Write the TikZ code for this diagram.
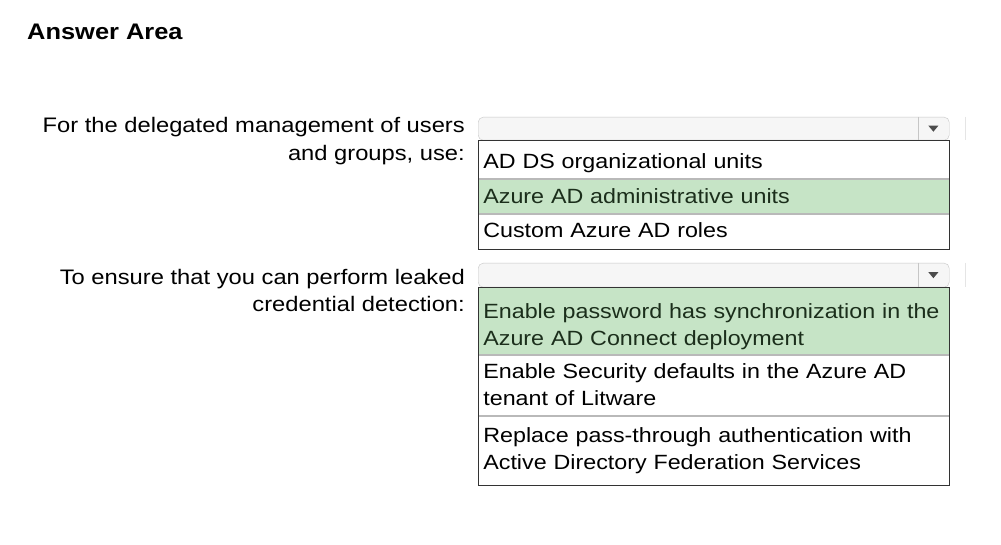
\documentclass[tikz,border=0pt]{standalone}
\usepackage{fontspec}
\setmainfont[FakeStretch=1.13]{Liberation Sans}
\definecolor{pickgreen}{HTML}{C6E4C6}
\definecolor{picktext}{HTML}{1B2E1B}
\begin{document}
\begin{tikzpicture}[x=1pt,y=-1pt,
	prompt/.style={anchor=base east,align=right,inner sep=0pt,font=\fontsize{21}{28}\selectfont},
	choice/.style={draw=gray!55,line width=.7pt,anchor=north west,minimum width=471pt,text width=461pt,inner xsep=5pt,inner ysep=0pt,text depth=0pt,align=left,font=\fontsize{20.6}{27}\selectfont},
	picked/.style={choice,fill=pickgreen,text=picktext},
	dropbox/.style={draw=gray!45,rounded corners=5pt,fill=gray!7,anchor=north west,minimum width=471pt,minimum height=23pt,inner sep=0pt}]
	\useasboundingbox[fill=white] (0,0) rectangle (1001,545);
	\node[anchor=base west,inner sep=0pt,font=\fontsize{22.5}{27}\selectfont\bfseries] (title) at (27,40) {Answer Area};
	% first question
	\node[prompt] (q1) at (465,161) {For the delegated management of users\\and groups, use:};
	\node[dropbox] (d1) at (478,117) {};
	\draw[gray!45] ([xshift=-31pt]d1.north east) -- ([xshift=-31pt]d1.south east);
	\fill[black!70] (d1.east) ++(-21,-3) -- ++(10,0) -- ++(-5,6) -- cycle;
	\draw[gray!20] ([xshift=16pt]d1.north east) -- ([xshift=16pt]d1.south east);
	\node[choice,minimum height=38pt,text height=17pt] (a1) at (d1.south west) {AD DS organizational units};
	\node[picked,minimum height=34pt,text height=14pt] (a2) at (a1.south west) {Azure AD administrative units};
	\node[choice,minimum height=35pt,text height=12pt] (a3) at (a2.south west) {Custom Azure AD roles};
	\draw[black!80,line width=.8pt] (a1.north west) rectangle (a3.south east);
	% second question
	\node[prompt] (q2) at (465,312) {To ensure that you can perform leaked\\credential detection:};
	\node[dropbox,minimum height=24pt] (d2) at (478,263) {};
	\draw[gray!45] ([xshift=-31pt]d2.north east) -- ([xshift=-31pt]d2.south east);
	\fill[black!70] (d2.east) ++(-21,-3) -- ++(10,0) -- ++(-5,6) -- cycle;
	\draw[gray!20] ([xshift=16pt]d2.north east) -- ([xshift=16pt]d2.south east);
	\node[picked,minimum height=67pt,text height=15pt,text depth=20pt] (b1) at (d2.south west) {Enable password has synchronization in the\\Azure AD Connect deployment};
	\node[choice,minimum height=60pt,text height=15pt,text depth=29pt] (b2) at (b1.south west) {Enable Security defaults in the Azure AD\\tenant of Litware};
	\node[choice,minimum height=69pt,text height=15pt,text depth=32pt] (b3) at (b2.south west) {Replace pass-through authentication with\\Active Directory Federation Services};
	\draw[black!80,line width=.8pt] (b1.north west) rectangle (b3.south east);
\end{tikzpicture}
\end{document}
